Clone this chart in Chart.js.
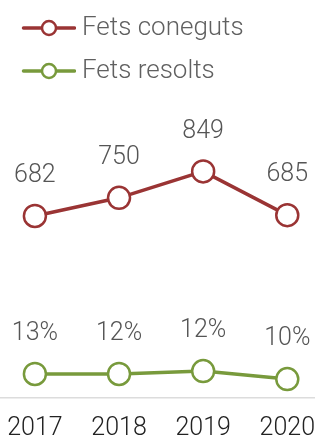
<!DOCTYPE html>
<html>
<head>
<meta charset="utf-8">
<script src="https://cdn.jsdelivr.net/npm/chart.js@4"></script>
<style>
  html, body { margin: 0; padding: 0; background: #fff; overflow: hidden; }
  #wrap { position: relative; width: 315px; height: 462px; margin-top: -2px; }
</style>
</head>
<body>
<div id="wrap"><canvas id="chart"></canvas></div>
<script>
// data
const years = [2017, 2018, 2019, 2020];
const knownValues = [682, 750, 849, 685];
const solvedValues = [90, 90, 101, 71];
const knownLabels = ["682", "750", "849", "685"];
const solvedLabels = ["13%", "12%", "12%", "10%"];

const red = "#9a3434";
const green = "#789a3c";

// line + circle icon for the legend
function legendIcon(color) {
  const c = document.createElement("canvas");
  c.width = 66;
  c.height = 20;
  const g = c.getContext("2d");
  g.strokeStyle = color;
  g.lineWidth = 3.5;
  g.lineCap = "round";
  g.beginPath();
  g.moveTo(13.5, 10);
  g.lineTo(64.5, 10);
  g.stroke();
  g.beginPath();
  g.arc(39, 10, 7, 0, Math.PI * 2);
  g.fillStyle = "#fff";
  g.fill();
  g.lineWidth = 2.5;
  g.stroke();
  return c;
}

// value labels above the points
const valueLabels = {
  id: "valueLabels",
  afterDatasetsDraw(chart) {
    const ctx = chart.ctx;
    ctx.save();
    ctx.font = "300 25px Roboto";
    ctx.fillStyle = "#555";
    ctx.textAlign = "center";
    ctx.textBaseline = "middle";
    chart.data.datasets.forEach((ds, i) => {
      chart.getDatasetMeta(i).data.forEach((pt, j) => {
        ctx.fillText(ds.valueLabels[j], pt.x, pt.y - 40);
      });
    });
    ctx.restore();
  }
};

new Chart(document.getElementById("chart"), {
  type: "line",
  data: {
    datasets: [
      {
        label: "Fets coneguts",
        data: years.map((y, i) => ({ x: y, y: knownValues[i] })),
        valueLabels: knownLabels,
        borderColor: red,
        borderWidth: 3.5,
        pointRadius: 11,
        pointBorderWidth: 2.5,
        pointBackgroundColor: "#fff",
        pointBorderColor: red,
        icon: legendIcon(red)
      },
      {
        label: "Fets resolts",
        data: years.map((y, i) => ({ x: y, y: solvedValues[i] })),
        valueLabels: solvedLabels,
        borderColor: green,
        borderWidth: 3.5,
        pointRadius: 11,
        pointBorderWidth: 2.5,
        pointBackgroundColor: "#fff",
        pointBorderColor: green,
        icon: legendIcon(green)
      }
    ]
  },
  options: {
    responsive: true,
    maintainAspectRatio: false,
    animation: false,
    layout: { padding: 0, autoPadding: false },
    plugins: {
      tooltip: { enabled: false },
      legend: {
        position: "top",
        align: "start",
        labels: {
          usePointStyle: true,
          pointStyleWidth: 52,
          padding: 17,
          color: "#606060",
          font: { family: "Roboto", size: 26, weight: "300" },
          generateLabels(chart) {
            return chart.data.datasets.map((ds, i) => ({
              text: ds.label,
              fontColor: "#606060",
              pointStyle: ds.icon,
              datasetIndex: i,
              hidden: false,
              lineWidth: 0,
              strokeStyle: ds.borderColor,
              fillStyle: "#fff"
            }));
          }
        }
      }
    },
    scales: {
      x: {
        type: "linear",
        min: 2016.585,
        max: 2020.32,
        afterBuildTicks(scale) {
          scale.ticks = years.map(v => ({ value: v }));
        },
        grid: { display: false, drawTicks: false },
        border: { display: true, color: "#dcdcdc", width: 1.5 },
        ticks: {
          padding: 0,
          color: "#222",
          font: { family: "Roboto", size: 25, weight: "300", lineHeight: "62px" },
          maxRotation: 0,
          callback: v => String(v)
        }
      },
      y: {
        display: false,
        min: 0,
        max: 1139
      }
    }
  },
  plugins: [valueLabels]
});
</script>
</body>
</html>
